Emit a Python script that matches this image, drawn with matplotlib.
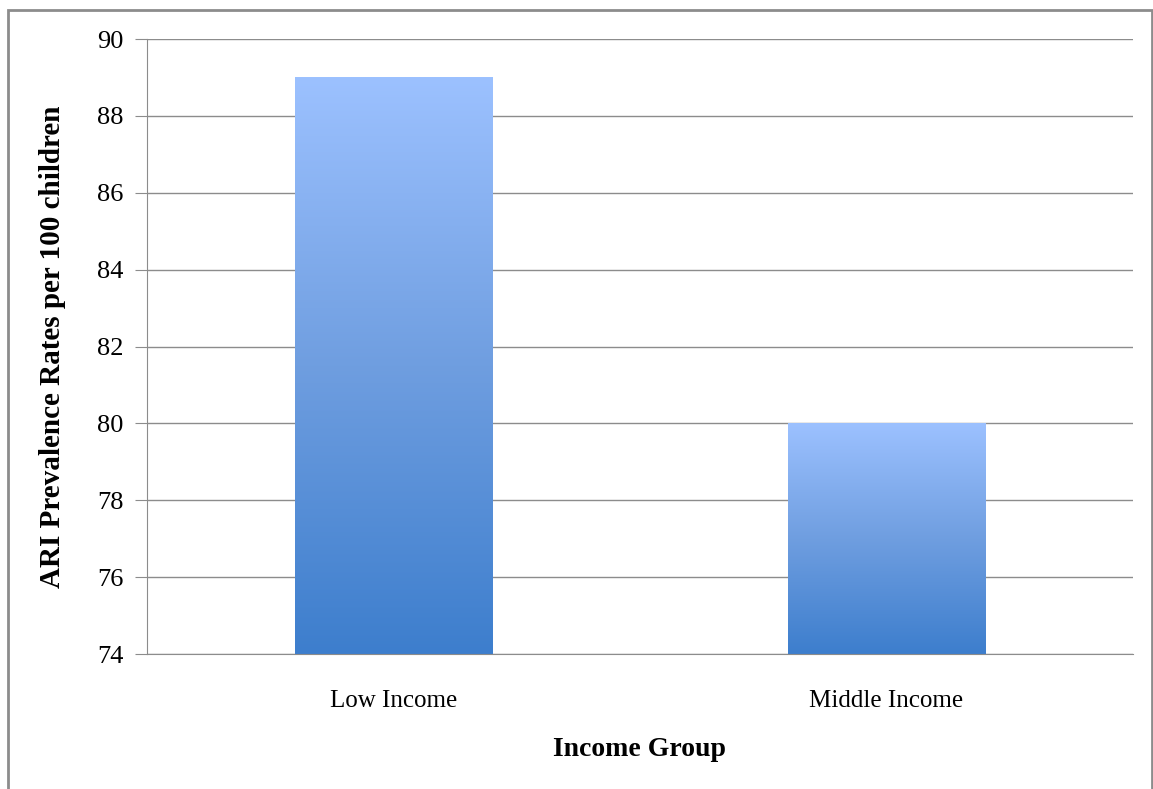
import numpy as np
import matplotlib.pyplot as plt
from matplotlib.colors import LinearSegmentedColormap
from matplotlib.patches import Rectangle

# dati
categorie = ["Low Income", "Middle Income"]
valori = [89, 80]
y_ticks = [74, 76, 78, 80, 82, 84, 86, 88, 90]

plt.rcParams['font.family'] = ['Liberation Serif', 'DejaVu Serif']

fig = plt.figure(figsize=(11.53, 7.89), dpi=100)
ax = fig.add_axes([0.1275, 0.171, 0.855, 0.7795])

# cornice grigia attorno al grafico
bordo = Rectangle((8 / 1153, -0.1), 1144 / 1153, 1.1 - 10 / 789, transform=fig.transFigure,
                  fill=False, edgecolor='#8c8c8c', lw=2, zorder=0)
fig.patches.append(bordo)

ax.set_xlim(-0.5, 1.5)
ax.set_ylim(74, 90)
ax.set_yticks(y_ticks)
ax.set_xticks(range(len(categorie)))
ax.set_xticklabels(categorie, fontsize=18)
ax.tick_params(axis='y', labelsize=19, length=9, color='#8c8c8c', pad=8)
ax.tick_params(axis='x', length=0, pad=26)
ax.grid(axis='y', color='#8c8c8c', lw=1)
ax.set_axisbelow(True)
for s in ['top', 'right']:
    ax.spines[s].set_visible(False)
ax.spines['left'].set_color('#8c8c8c')
ax.spines['bottom'].set_color('#8c8c8c')

# barre con gradiente
cmap = LinearSegmentedColormap.from_list('blu', ['#3d7ecd', '#6f9ee0', '#9cc1ff'])
larghezza = 0.4
grad = np.linspace(0, 1, 256).reshape(-1, 1)
barre = ax.bar(range(len(categorie)), [v - 74 for v in valori], bottom=74,
               width=larghezza, color='none', zorder=2)
for b in barre:
    x0, y0 = b.get_x(), b.get_y()
    ax.imshow(grad, cmap=cmap, origin='lower', aspect='auto', zorder=2,
              extent=[x0, x0 + b.get_width(), y0, y0 + b.get_height()])
ax.set_xlim(-0.5, 1.5)
ax.set_ylim(74, 90)

ax.set_ylabel("ARI Prevalence Rates per 100 children", fontsize=21, fontweight='bold', labelpad=22)
ax.set_xlabel("Income Group", fontsize=20, fontweight='bold', labelpad=18)

fig.savefig('out.png', dpi=100)
